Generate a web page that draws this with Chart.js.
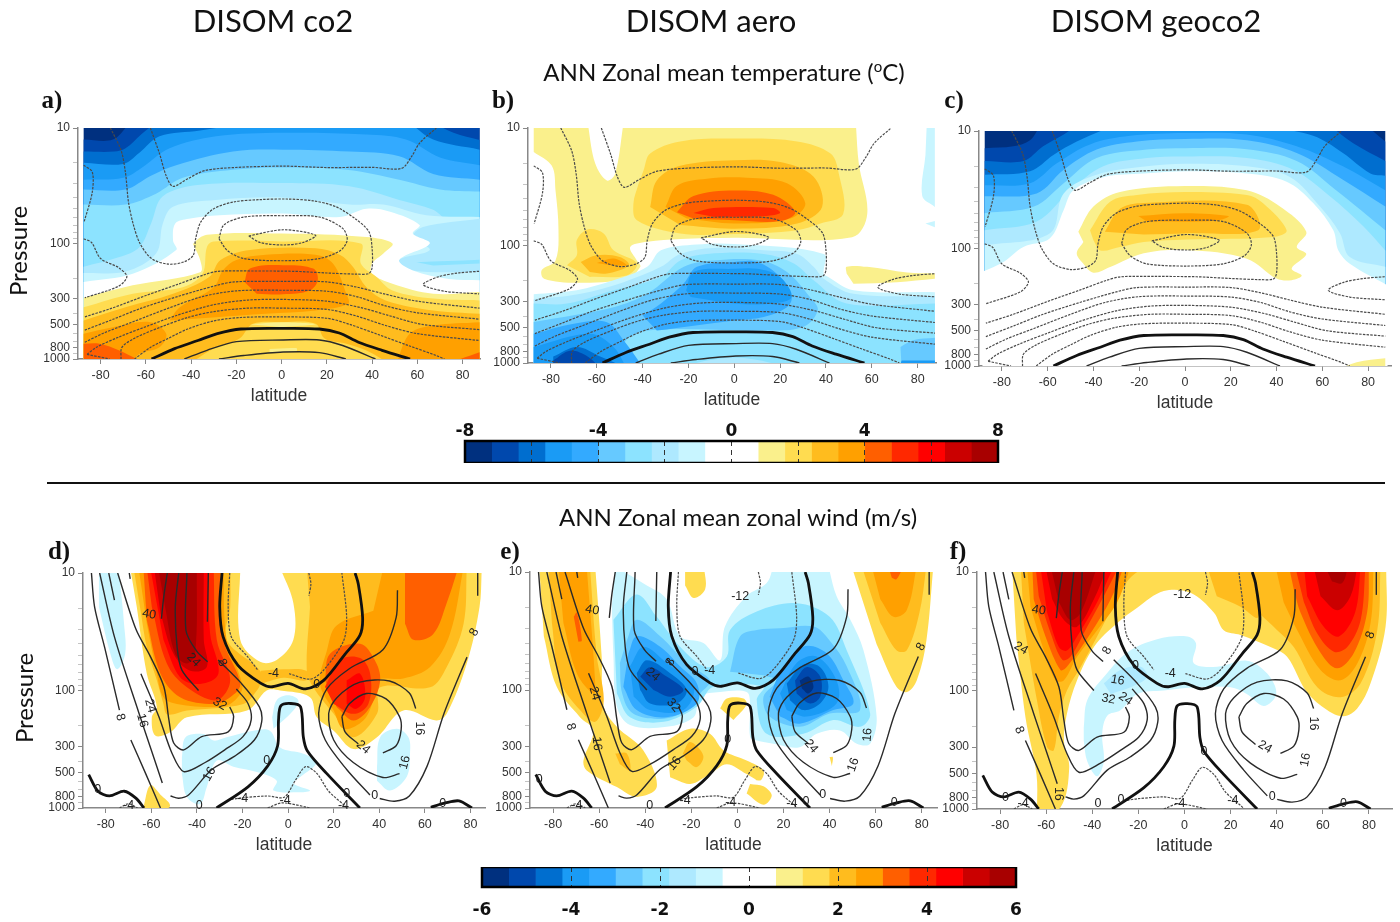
<!DOCTYPE html>
<html lang="en">
<head>
<meta charset="UTF-8">
<title>DISOM zonal mean temperature and zonal wind</title>
<script src="https://cdn.jsdelivr.net/npm/chart.js"></script>
<style>
    body { margin: 0; background: #fff; width: 1400px; height: 922px; overflow: hidden; position: relative; }
    #page { position: absolute; left: 0; top: 0; width: 1400px; height: 922px; filter: blur(0.45px); }
    canvas { position: absolute; }
    .txt { position: absolute; white-space: nowrap; color: #111; transform: translate(-50%, -50%); font-family: Lato, sans-serif; }
    .head { font-size: 31px; }
    .sub { font-size: 24px; }
    .sub sup { font-size: 15px; line-height: 0; }
    .letter { font-family: "Liberation Serif", serif; font-weight: bold; font-size: 25px; }
    .press { font-size: 24px; transform: translate(-50%, -50%) rotate(-90deg); }
    #rule { position: absolute; left: 47px; top: 482px; width: 1338px; height: 1.5px; background: #111; }
</style>
</head>
<body>
<div id="page">
    <div class="txt head" style="left:273px;top:20px">DISOM co2</div>
    <div class="txt head" style="left:711px;top:20px">DISOM aero</div>
    <div class="txt head" style="left:1156px;top:20px">DISOM geoco2</div>
    <div class="txt sub" style="left:724px;top:71px">ANN Zonal mean temperature (<sup>o</sup>C)</div>
    <div class="txt sub" style="left:738px;top:516px">ANN Zonal mean zonal wind (m/s)</div>
    <div class="txt letter" style="left:52px;top:100px">a)</div>
    <div class="txt letter" style="left:503px;top:100px">b)</div>
    <div class="txt letter" style="left:954px;top:100px">c)</div>
    <div class="txt letter" style="left:59px;top:551px">d)</div>
    <div class="txt letter" style="left:510px;top:551px">e)</div>
    <div class="txt letter" style="left:958px;top:551px">f)</div>
    <div class="txt press" style="left:17px;top:251px">Pressure</div>
    <div class="txt press" style="left:23px;top:698px">Pressure</div>
    <div id="rule"></div>
</div>

<script>
    // colour levels shared by both colour bars
    const palette = ['#00307f', '#0048ad', '#006ecf', '#1a9bf5', '#33aaff', '#66c9ff', '#8ce3ff', '#aee9ff', '#c8f5ff', '#ffffff',
                     '#ffffff', '#faf08c', '#ffdc50', '#ffbc1e', '#ffa000', '#ff5f00', '#ff2800', '#ff0000', '#cb0000', '#a80000'];
    const tempEdges = [-8, -7.2, -6.4, -5.6, -4.8, -4, -3.2, -2.4, -1.6, -0.8, 0, 0.8, 1.6, 2.4, 3.2, 4, 4.8, 5.6, 6.4, 7.2, 8];
    const windEdges = [-6, -5.4, -4.8, -4.2, -3.6, -3, -2.4, -1.8, -1.2, -0.6, 0, 0.6, 1.2, 1.8, 2.4, 3, 3.6, 4.2, 4.8, 5.4, 6];
    const tempTicks = [-8, -6, -4, -2, 0, 2, 4, 6, 8];
    const tempTickLabels = [-8, -4, 0, 4, 8];
    const windTicks = [-6, -4, -2, 0, 2, 4, 6];

    const latTicks = [-80, -60, -40, -20, 0, 20, 40, 60, 80];
    const pressureTicks = [10, 20, 30, 40, 50, 60, 70, 80, 90, 100, 200, 300, 400, 500, 600, 700, 800, 900, 1000];
    const pressureLabels = [10, 100, 300, 500, 800, 1000];

    // filled contours: [colour level, [[lat, hPa], ...]], painted in this order
    const fullPlot = [[-87.5, 10], [87.5, 10], [87.5, 1000], [-87.5, 1000]];

    const panelAFills = [
        [0, fullPlot],
        [1, [[-87.5,12.6],[-74.6,12.6],[-67,10],[87.5,10],[87.5,1000],[-87.5,1000]]],
        [2, [[-87.5,16],[-74,16],[-69,15],[-62,11.3],[-55.5,10],[67,10],[76,11],[87.5,12.7],[87.5,1000],[-87.5,1000]]],
        [3, [[-87.5,20],[-70,20.5],[-63,16.5],[-54,11.8],[-36,10.5],[-14,10],[56.6,10],[67,12.6],[87.5,15.4],[87.5,1000],[-87.5,1000]]],
        [4, [[-87.5,28],[-70,27],[-61,21.5],[-49.5,15],[-29,11.8],[0.6,11],[37.5,11.4],[55,12.6],[70,18],[87.5,21],[87.5,1000],[-87.5,1000]]],
        [5, [[-87.5,34],[-69,34],[-58,26],[-46.6,21],[-21.5,16],[0.6,15.4],[30,16],[52,17.6],[67,25],[87.5,28],[87.5,1000],[-87.5,1000]]],
        [6, [[-87.5,46],[-69,46],[-55.5,37],[-43.7,27],[-21.5,23],[0.6,22],[28.6,23],[52,28],[70,34],[87.5,35.5],[87.5,1000],[-87.5,1000]]],
        [7, [[-87.5,159],[-71.7,131],[-62.8,107],[-57.7,67],[-52.5,39],[-36,31],[0.6,30],[30,32],[52,42],[67,51],[73,61],[87.5,61],[87.5,1000],[-87.5,1000]]],
        [8, [[-87.5,180],[-69,175],[-55.5,122],[-52.5,67],[-48,48],[-29,42],[0.6,40],[30,46],[45,46],[64,57],[87.5,59],[87.5,1000],[-87.5,1000]]],
        [7, [[87.5,61],[62.5,72],[58,88],[65.5,114],[52,139],[58,171],[87.5,177]]],
        [6, [[59.6,145],[87.5,138],[87.5,149],[67,155]]],
        [9, [[-87.5,215],[-65.8,183],[-46.6,114],[-48,94],[-47,67],[-41,61],[-27.4,57],[0.6,55],[25.7,59],[37.5,50],[48,53],[61,69],[58,82],[65.5,100],[52,139],[58,171],[74,203],[87.5,208],[87.5,1000],[-87.5,1000]]],
        [11, [[-87.5,295],[-65.8,230],[-36,177],[-36,139],[-38.5,107],[-39,100],[-33,84],[0,82],[37.5,88],[49,100],[45,122],[40,149],[40,183],[49,223],[67,272],[87.5,263],[87.5,1000],[-87.5,1000]]],
        [12, [[-87.5,356],[-65.8,272],[-43.7,239],[-35,183],[-33,107],[-30,96],[0,96],[35,100],[35,149],[42,195],[49,255],[67,300],[87.5,311],[87.5,1000],[-87.5,1000]]],
        [13, [[-87.5,464],[-69,356],[-48,272],[-32,195],[-27,139],[-14,114],[15,110],[25.7,125],[31.5,159],[37.5,239],[46,311],[67,380],[87.5,406],[87.5,1000],[-87.5,1000]]],
        [14, [[-49.5,464],[-45,356],[-30,239],[-26,171],[-20,139],[-7,125],[15,125],[22.7,149],[28.6,272],[29.4,333],[15,380],[-7,406],[-29,434]]],
        [12, [[-40.7,1000],[-30,810],[-18.6,665],[-12.7,496],[0.6,480],[15,496],[19,665],[28.6,737],[37.5,845],[47.8,1000]]],
        [11, [[-5.3,820],[6.5,805],[6.5,860],[-5.3,870]]],
        [11, [[-14,500],[0,480],[15,500],[0,530]]],
        [14, [[-87.5,605],[-74.6,530],[-58,480],[-51,605],[-54,790],[-63,905],[-66,1000],[-87.5,1000]]],
        [14, [[50.7,1000],[56.6,605],[67,513],[87.5,480],[87.5,1000]]],
        [15, [[-87.5,737],[-80.5,737],[-71.7,845],[-60,1000],[-87.5,1000]]],
        [15, [[73,1000],[87.5,875],[87.5,1000]]],
        [15, [[-16.4,215],[-14,165],[0.6,154],[14,165],[16,208],[12.4,255],[0.6,275],[-11,272]]]
    ];

    const panelBFills = [
        [8, [[84,10],[87.5,10],[87.5,47],[82,38],[83.4,17]]],
        [8, [[83.4,65],[87.5,62],[87.5,70]]],
        [11, [[-87.5,10],[-64,10],[-60.7,20],[-55.6,28],[-52,24.5],[-48.3,10],[53,10],[54.3,20],[58,54],[51.4,85],[0,86],[-23.6,88],[-38,93],[-45.4,103],[-42.5,134],[-41,152],[-47,192],[-68.7,208],[-83,192],[-84,162],[-78,134],[-76.7,74],[-78,34],[-79.6,21],[-87.5,16]]],
        [12, [[-39.6,23],[-36.7,16.5],[-23.6,13],[0,12.3],[27.4,13],[42,16.5],[45.6,24.5],[47.5,54],[37.6,65],[27.4,74],[0,80],[-23.6,79],[-42.5,61],[-44,44],[-41.8,30]]],
        [13, [[-36.7,47],[-33.8,28],[-23.6,21],[0,18.8],[20,19.5],[34.6,26],[38.3,47],[27.4,65],[0,72],[-23.6,67]]],
        [14, [[-30,47],[-25,31],[-12,27],[5.5,26.5],[23,29.5],[31,44],[24.5,59],[0,65],[-20.7,59]]],
        [15, [[-25,52],[-17.8,38],[0,34],[17,37],[26.6,52],[20,62],[0,61],[-17.8,59]]],
        [16, [[-17.8,53],[-9,48],[17,48],[20,53],[14,56],[-9,57]]],
        [12, [[-73,147],[-68.7,121],[-68.7,90],[-64,73],[-57,79],[-52.7,110],[-42.5,142],[-47,180],[-63,185]]],
        [13, [[-67,138],[-60,121],[-50,125],[-46,147],[-55.6,173],[-63,168]]],
        [14, [[-60,141],[-52.7,129],[-47,147],[-54,147]]],
        [11, [[49,173],[49,152],[58,152],[75.4,170],[87.5,173],[87.5,192],[71,205],[52,212]]],
        [8, [[-87.5,260],[-68.7,240],[-52.7,198],[-38,152],[-32,110],[-16.3,98],[0,97],[39,118],[39,173],[41,185],[52,240],[87.5,250],[87.5,1000],[-87.5,1000]]],
        [7, [[-87.5,288],[-67,258],[-48.3,205],[-32,152],[-23.6,118],[-9,105],[12.8,110],[27.4,118],[34.6,152],[39,192],[52,258],[87.5,270],[87.5,1000],[-87.5,1000]]],
        [6, [[-87.5,312],[-73,312],[-52.7,240],[-32,185],[-23.6,134],[-12,118],[12.8,118],[26,142],[34.6,198],[49,312],[87.5,312],[87.5,1000],[-87.5,1000]]],
        [5, [[-87.5,448],[-52.7,335],[-38,258],[-22,152],[-9,134],[11.4,134],[23,168],[33,275],[36.4,356],[30,495],[12.8,530],[-38,530],[-48,690],[-41,1000],[-87.5,1000]]],
        [5, [[72.5,730],[78,640],[87.5,610],[87.5,1000],[73,1000]]],
        [4, [[-40,395],[-32,312],[-22,210],[-16.3,152],[0,138],[10,138],[20,185],[25,275],[23,335],[12.8,406],[0,434],[-33.8,530]]],
        [3, [[-21,240],[-17.8,168],[0,158],[10,158],[20,185],[25,275],[17,312],[0,312],[-19,275]]],
        [6, [[-39.6,1000],[-29.4,840],[-17.8,650],[0,540],[17,550],[29,600],[40.5,785],[52,1000]]],
        [7, [[-26.5,1000],[0,900],[26,1000]]],
        [4, [[-87.5,565],[-70,463],[-55.6,450],[-48.3,640],[-39.6,1000],[-87.5,1000]]],
        [3, [[-87.5,730],[-63,565],[-52.7,730],[-47,1000],[-87.5,1000]]],
        [2, [[-79,880],[-68.7,730],[-58.5,880],[-47,1000],[-79,1000]]],
        [1, [[-79,950],[-71.6,785],[-64,880],[-58.5,1000],[-79,1000]]],
        [3, [[73,950],[87.5,950],[87.5,1000],[72,1000]]]
    ];

    const panelCFills = [
        [0, fullPlot],
        [1, [[-87.5,14],[-75,13.5],[-67.7,12],[-63.3,10],[79.3,10],[87.5,12.3],[87.5,1000],[-87.5,1000]]],
        [2, [[-87.5,18],[-70.6,18],[-62,13.5],[-53,10.7],[-47.3,10],[63.3,10],[73.5,12.7],[87.5,18],[87.5,1000],[-87.5,1000]]],
        [3, [[-87.5,23.6],[-67.7,22],[-57.5,16],[-47.3,12.3],[-31.3,10],[34,10],[56,11],[69,15.4],[81,23],[87.5,24],[87.5,1000],[-87.5,1000]]],
        [4, [[-87.5,29],[-67.7,27.8],[-56,18.8],[-41.5,13],[-24,11],[0,10.4],[27,10.7],[48.8,13.5],[69,20],[87.5,32],[87.5,1000],[-87.5,1000]]],
        [5, [[-87.5,36],[-64.8,34],[-53,21.4],[-38.6,14.4],[-21,12.3],[0,11.7],[27,12],[48.8,15.4],[69,26],[87.5,44],[87.5,1000],[-87.5,1000]]],
        [6, [[-87.5,50],[-66,44],[-53,27.8],[-38.6,17],[-16.7,14.4],[0,14],[27,14.3],[48.8,18],[66,32],[87.5,70],[87.5,1000],[-87.5,1000]]],
        [7, [[-87.5,70],[-64.8,59],[-50,32],[-35.7,20],[-16.7,17],[0,16.5],[27,17],[47.3,21.4],[63.3,36],[78,65],[87.5,104],[87.5,1000],[-87.5,1000]]],
        [8, [[-87.5,94],[-59,74],[-53,34],[-38.6,23.6],[-16.7,20],[0,19],[27,20],[46,24.7],[59,44],[67.7,74],[72,118],[87.5,143],[87.5,1000],[-87.5,1000]]],
        [9, [[-88.5,158],[-79.3,130],[-70.6,97],[-59,82],[-53,47],[-48.8,32],[-35.7,24.7],[-18,23],[0.7,22],[27,23],[44.4,27],[56,41],[64.8,70],[67,104],[72,135],[88.5,206],[88.5,1000],[-88.5,1000]]],
        [11, [[-46.6,72],[-40,44],[-28.4,33],[0,29.4],[27,32],[41.5,44],[53,72],[48.8,97],[53,112],[46.6,148],[51,170],[46.6,186],[40,180],[27,122],[0.7,103],[-18,110],[-32.7,144],[-40,161],[-44.4,135],[-47.3,110],[-44.4,88]]],
        [12, [[-41.5,70],[-32.7,40],[-21,35],[0,33],[27,35],[34,41],[44.4,70],[38.6,80],[0.7,84],[-18,88],[-28.4,97],[-37,104],[-40,85]]],
        [13, [[-35,72],[-28.4,46],[-18,41],[27,42.5],[32,70],[0.7,74],[-18,76]]],
        [14, [[-20.4,53],[0,50],[19,53],[13.8,58],[-16.7,59]]],
        [11, [[65.5,1000],[75,930],[87.5,860],[87.5,1000]]]
    ];

    const panelDFills = [
        [8, [[-83,10],[-74.4,10],[-72,27],[-71.5,48.7],[-75,66],[-78,48.7],[-83,19.5]]],
        [12, [[-69.3,10],[-21,10],[-21,37],[-12.3,57],[-5,55],[2.3,37],[2.3,18],[-3.5,10],[85,10],[84,19.5],[78.4,59],[69.6,158],[65,180],[50.6,148],[39,250],[28.7,315],[20,220],[12.6,169],[9.6,114],[-3.5,100],[-9.4,100],[-18,148],[-44.4,169],[-51.8,227],[-58.3,242],[-59.8,169],[-57.6,138],[-62,72],[-66.4,19.5]]],
        [13, [[-67.8,10],[-25.4,10],[-25.4,19.5],[-27,37],[-12.3,68],[-12.3,88],[-13.7,100],[-19.6,130],[-44.4,148],[-53,160],[-54.7,130],[-57.6,82],[-62,43],[-65,19.5]]],
        [13, [[8.2,10],[78.4,10],[77,27],[69.6,63],[62.3,94],[40.4,94],[39,158],[28.7,250],[20,158],[11,94],[8.2,68],[9.6,19.5]]],
        [13, [[-12,68],[-2,66],[8,68],[8,82],[-2,78],[-12,88]]],
        [14, [[41.8,10],[77,10],[71,33],[62.3,63],[50.6,79],[39,82],[37.4,121],[33,180],[24.3,212],[20,148],[14,88],[17,46],[21.3,28],[37.4,21]]],
        [15, [[51.3,10],[74.7,10],[69.6,18],[63.7,33],[55,37],[51.3,27]]],
        [15, [[16.2,82],[18.4,48.7],[31.6,40],[38,55],[40.4,82],[36,138],[28.7,180],[21.3,138]]],
        [16, [[16.2,93],[22.8,55],[31.6,53],[36,72],[35.2,130],[28.7,158],[20,130]]],
        [17, [[25.7,82],[31.6,72],[33.8,114],[30,143],[25.7,130]]],
        [14, [[-65.6,10],[-28.4,10],[-27,37],[-21,77],[-20.3,100],[-25.4,130],[-32.7,138],[-48.8,130],[-54.7,114],[-57.6,72],[-62,27]]],
        [15, [[-63.5,10],[-29.8,10],[-28.4,37],[-21,88],[-25.4,114],[-32.7,130],[-47.4,114],[-56,72],[-62,25.3]]],
        [16, [[-62,10],[-32.7,10],[-31.3,37],[-25.4,82],[-31.3,121],[-44.4,94],[-53.2,59],[-59.8,19.5]]],
        [17, [[-60.5,10],[-35,10],[-34.2,33],[-30.6,72],[-38.6,88],[-47.4,77],[-54.7,37]]],
        [18, [[-58.8,10],[-37,10],[-37,37],[-35.7,63],[-43,68],[-50.3,48.7],[-56,22]]],
        [19, [[-57,10],[-40,10],[-40.8,48.7],[-44.4,59],[-49.6,48.7],[-54,19.5]]],
        [8, [[-46.6,370],[-45,250],[-37,235],[-32.7,267],[-27,250],[-15.2,220],[-8,220],[-3.5,305],[6.7,345],[12.6,407],[5.3,545],[2.3,620],[9.6,710],[5.3,735],[-6.4,710],[-5,585],[-13.7,495],[-24,445],[-31.3,395],[-35.7,665],[-38.6,925],[-44.4,805],[-46.6,515]]],
        [8, [[-7,169],[-5,121],[0,110],[4.5,121],[2.3,148],[-6.4,212]]],
        [8, [[39,450],[40.4,250],[47.7,212],[52.8,250],[53.5,345],[52,545],[44.7,710],[39,585]]],
        [12, [[-63.5,985],[-60.5,640],[-56,770],[-51.8,950],[-56,1000],[-63.5,1000]]]
    ];

    const panelEFills = [
        [12, [[-86,10],[-61.7,10],[-58.9,52],[-58,138],[-52.3,205],[-40.8,325],[-35,665],[-43.7,805],[-52.3,665],[-65.4,480],[-66.8,395],[-62.5,220],[-68.3,170],[-78.4,94],[-84,35]]],
        [12, [[-30.7,268],[-20.5,213],[-11.9,235],[-6,325],[4,395],[11.3,480],[9.8,585],[4,515],[-4.6,425],[-11.9,515],[-20.5,625],[-29.2,550]]],
        [12, [[-22.7,10],[-14.5,10],[-14,14],[-19,16.6],[-22.7,13]]],
        [12, [[-7.5,143],[-4.6,118],[2.6,118],[4,133],[-1.7,180]]],
        [12, [[5.5,625],[11.3,655],[14.9,785],[11.3,940],[4,755]]],
        [12, [[6.2,515],[11.3,515],[8.4,585]]],
        [12, [[49.6,10],[85,10],[82,38],[77.8,83],[73.5,104],[69,94],[60.4,41]]],
        [13, [[-82,10],[-64,10],[-61,52],[-58,122],[-61.7,186],[-68.3,148],[-77,83],[-80.5,27]]],
        [13, [[54,10],[82,10],[79,22],[73.5,46],[69,46],[62,27]]],
        [13, [[-23.7,346],[-20.5,276],[-14.8,360],[-17.6,450],[-22,395]]],
        [13, [[-53,346],[-48,346],[-46.6,480],[-51,425]]],
        [14, [[-77.7,10],[-65.4,10],[-61.7,88],[-62.5,107],[-69.7,72],[-75.5,27]]],
        [14, [[58.3,10],[77.8,10],[73.5,21],[67.7,24],[62,17]]],
        [15, [[-71,24],[-69.7,22],[-67.5,38],[-69,39]]],
        [15, [[65.5,10],[72,10],[69,11.5],[67,11.2]]],
        [8, [[-53,10],[-39.3,13],[-30.7,17],[-24.9,35],[-14.8,40],[-7.5,56],[-5.4,29],[4,16],[12.7,12.4],[15.6,10],[39.5,10],[43,16],[49,25.4],[54.7,46],[60.4,168],[57.6,285],[51.8,285],[44.5,220],[34.4,235],[27,305],[15.6,285],[8.4,268],[5.5,250],[5.5,130],[4,104],[-7.5,104],[-16.2,114],[-19,170],[-30.7,205],[-46.6,198],[-52.3,138],[-53.8,52],[-54.5,19.6]]],
        [6, [[-53.8,25.4],[-43.7,15.5],[-35,24],[-24.9,43],[-13.3,64],[-4.6,52],[-3.2,31],[8.4,21.6],[25.7,18.4],[40,24],[47.4,46],[57.6,158],[53.2,205],[41.6,180],[28.6,235],[12.7,235],[8.4,122],[11.3,94],[-10.4,94],[-17.6,138],[-32,186],[-46.6,170],[-52.3,107]]],
        [5, [[-3.2,70],[1.2,35],[8.4,31],[18.5,30],[33,29],[40,38],[47.4,63],[53.2,148],[40,158],[27,205],[14,168],[11.3,114],[17,83],[11.3,75]]],
        [5, [[-48,38],[-43.7,25.4],[-33.5,35],[-22,59],[-11.9,83],[-16.2,107],[-22,148],[-32,175],[-45.3,158],[-50,107],[-51,59]]],
        [4, [[-47.3,49],[-43.7,35],[-33.5,43],[-24.9,63],[-17.6,88],[-17.6,130],[-30.7,170],[-43.7,148],[-49.5,94]]],
        [3, [[-46.6,63],[-40.8,43],[-30.7,59],[-19,94],[-23.4,148],[-37.9,148],[-45,114]]],
        [2, [[-43.7,72],[-39.3,56],[-29.2,72],[-22,100],[-26.3,130],[-37.9,130],[-42.2,100]]],
        [1, [[-42.2,77],[-37.9,64],[-30.7,77],[-23.4,100],[-29.2,114],[-36.4,100]]],
        [4, [[14,114],[18.5,72],[28.6,43],[38.8,49],[46,83],[50.3,130],[41.6,148],[27,193],[18.5,168]]],
        [3, [[18.5,107],[25.7,59],[34.4,52],[43,83],[43,130],[30,168],[21.4,148]]],
        [2, [[21.4,88],[28.6,61],[35.9,64],[39.5,94],[35.9,130],[28.6,148],[22.8,122]]],
        [1, [[25,83],[30,64],[35.9,77],[35.9,114],[31.5,130],[25.7,107]]],
        [0, [[27,83],[30.8,77],[33,94],[30.8,107],[28,97]]],
        [12, [[40,370],[41.4,370],[41,440]]]
    ];

    const panelFFills = [
        [12, [[-74.8,10],[87.5,10],[87.2,29],[80.7,87],[75,141],[69,165],[62,147],[53,103],[44.5,52],[37.3,43],[24.3,34],[17,31],[12.7,22],[2.6,15],[-9,14.5],[-20.5,20],[-29.2,27],[-39.3,43],[-46.6,82],[-51,157],[-52.3,265],[-50,445],[-53.8,970],[-64,1000],[-64.2,510],[-69,167],[-72.9,37]]],
        [13, [[-71,10],[-17.6,10],[-24.9,12],[-32,21],[-37.9,35],[-45,63],[-51,100],[-54.5,167],[-56.7,320],[-59.6,300],[-64,121],[-69.7,27]]],
        [13, [[9.8,10],[30.8,10],[32,24],[24.3,19.6],[14,16]]],
        [13, [[30.8,10],[85,10],[83.6,31],[76.4,87],[67.7,114],[57.6,94],[47.4,43],[40.2,31],[32,22]]],
        [14, [[-68.3,10],[-23.4,10],[-29.2,18],[-37.9,31],[-46.6,52],[-52.3,82],[-56,82],[-61,46],[-66.8,19.6]]],
        [14, [[39.5,10],[82,10],[80.7,27],[75,59],[67.7,82],[59,67],[48.9,31],[43,18]]],
        [15, [[-66,10],[-26.3,10],[-32,17],[-40.8,33],[-51,63],[-53.8,67],[-60.3,35],[-65.4,17]]],
        [15, [[45.3,10],[80,10],[79.2,22],[73.5,48],[66.2,65],[59,48],[50.3,22],[47.4,14]]],
        [16, [[-64.6,10],[-28.5,10],[-35,16],[-42.2,29],[-49.5,52],[-53,55],[-58,33],[-63.2,16]]],
        [16, [[48,10],[78.5,10],[76.4,25.4],[70.6,43],[64.8,47],[57.6,33],[51.8,18]]],
        [17, [[-62.5,10],[-30.7,10],[-37.9,18],[-46.6,35],[-51,46],[-54.5,43],[-59.6,22]]],
        [17, [[51.8,10],[76.4,10],[74,22],[67,35],[60.4,29],[53.2,16]]],
        [18, [[-60.3,10],[-33.5,10],[-39.3,17],[-46.6,29],[-52.3,25.4],[-57.4,17]]],
        [18, [[56,10],[75,10],[72,16],[66.2,21],[59,16]]],
        [19, [[-58,10],[-37.9,10],[-45,22],[-49.5,25.4],[-54.5,18]]],
        [19, [[61,10],[71,10],[68.4,12.4],[64,12]]],
        [8, [[-43.7,205],[-42.2,121],[-35,77],[-24.9,48],[-11.9,37],[1.2,35],[5,40],[4,59],[14.2,63],[27,56],[35.9,72],[39.8,107],[34.4,135],[27,107],[20,94],[5.5,94],[-9,100],[-20.5,107],[-27.8,147],[-33.5,163],[-35.7,232],[-35,395],[-37.9,530],[-42.2,395],[-43.7,265]]],
        [7, [[-35,87],[-27.8,67],[-19,63],[-16.2,77],[-23.4,94],[-32,107]]]
    ];

    // climatology contours [lat, hPa], null breaks a line
    const tempDashed = [
        [[-75.7,10],[-71,15.5],[-69,24.5],[-67.7,43.6],[-65.5,69],[-62.6,100],[-57.5,135],[-50,151],[-43,144],[-39,126],[-38,91],[-35.7,65],[-30,50],[-21,43.6],[-9.5,41.7],[2,41.2],[14,42.7],[24,48],[33,62],[38.6,79],[40,110],[40,162],[38.6,182],[33,184],[20,180],[5,174],[-13,173],[-28,174],[-34,186],[-46,226],[-60,282],[-75,363],[-87,432]],
        [[-58,10],[-54,16.6],[-51,26],[-48,32],[-41.5,27.5],[-34,23.4],[-21,22],[1,21.4],[20,22],[40,21.9],[53,22.4],[57.5,17.6],[61,13.5],[68.4,10]],
        [[-87.5,21],[-83.7,24],[-83.7,36],[-87.3,65]],
        [[-27.7,90.6],[-25.5,69],[-16.7,59],[0.7,57.5],[16.7,59],[27,74],[29,93],[26,115],[16.7,135],[0.7,141],[-16.7,135],[-24,115],[-27.7,90.6]],
        [[-14.5,86],[0.7,76],[15,85],[9.5,98],[0.7,103],[-9.5,98],[-14.5,86]],
        [[87.3,174],[78,180],[69,195],[62.6,227],[72,259],[87.3,273]],
        [[-87.5,91],[-84,98],[-80,135],[-72,162],[-68.4,193],[-72,234],[-87,295]],
        [[-87,562],[-75,457],[-62,363],[-46,288],[-30,234],[-21,215],[1,213],[20,215],[33,238],[46,275],[60,316],[87.5,363]],
        [[-87,716],[-78,589],[-66,479],[-50,363],[-35,288],[-20,257],[1,254],[20,259],[33,288],[46,347],[60,398],[87.5,452]],
        [[-86,912],[-82,794],[-72,646],[-60,525],[-46,417],[-30,339],[-15,309],[1,305],[20,316],[35,359],[48,424],[62,501],[87.5,557]],
        [[-71,1000],[-70.6,794],[-65,661],[-53,525],[-41.5,437],[-30,389],[-15,363],[1,363],[20,372],[33,424],[46,513],[60,603],[87.5,692]],
        [[-65,1000],[-58,794],[-50,661],[-41.5,550],[-30,468],[-18,437],[0.7,432],[20,444],[30,501],[43,617],[56,764],[68.4,933],[72,1000]],
        [[-86,912],[-76,1000]]
    ];
    const tempThin = [
        [[-43,1000],[-33,841],[-20,708],[0.7,684],[16.7,684],[27,764],[41.5,1000]],
        [[-27.7,1000],[-16.7,933],[0.7,871],[16.7,881],[28.4,1000]]
    ];
    const tempThick = [
        [[-57.5,1000],[-47.3,813],[-37,692],[-28.4,603],[-18,550],[0.7,543],[16.7,550],[25.5,596],[34,716],[44.4,841],[56.8,1000]]
    ];

    const windDashed = [
        [[-25.6,10],[-26.3,19.5],[-24.9,35],[-17.6,52],[-13.3,67]],
        [[0.4,72],[9.8,80],[15.6,67],[24.3,38],[25.7,24],[23.6,10]],
        [[9.1,10],[10,12.4],[9.1,15.6]],
        [[-24.9,845],[-20.5,820],[-9,790],[-1.7,810],[3.3,577],[7.7,445],[12.7,510],[17.8,720],[25,960],[25.7,1000]],
        [[-9,1000],[-2.5,905],[9.8,1000]],
        [[-74,1000],[-70,920],[-66,1000]]
    ];
    const windThin = [
        [[-86.3,10],[-84.9,19.5],[-80.5,43],[-74,147],null,[-69,264],[-62.5,510],[-56,1000]],
        [[-35,10],[-35.4,26],null,[-30.7,55],[-20.5,87],[-12.6,138],[-11.6,185],[-14.8,264],[-23.4,362],[-33.5,470],[-43.7,775],[-48,825],[-51.6,790],null,[-55.2,613],[-59.6,340],[-65.4,157],[-76.2,35],[-82.7,10]],
        [[-78.7,10],[-76.2,17],null,[-64.6,72],[-56.7,167],[-51,340],[-45.8,490],[-36.4,410],[-27.8,320],[-19.8,247],[-16.2,178],[-17.6,129],[-22.7,97]],
        [[-44.4,10],[-44.8,31],[-40.2,46],[-35.3,57]],
        [[-74.8,10],[-66.8,30],[-60.3,52],[-54.5,93],[-52.3,178],[-50.2,280],[-45.8,320],[-37.9,247],[-26.3,225],[-23.9,167],[-25.6,138]],
        [[-69.7,10],[-69.3,11.2]],
        [[-48,10],[-49.5,19.5],[-48.7,43],[-46.6,67],[-39.3,100]],
        [[-53,10],[-54.5,15.6],[-55.6,24.5]],
        [[48,14],[47.4,24],[41.6,45],[27,65],[17,97],[13.4,157],[16.3,264],[25.7,470],[35.9,775],null,[40.2,830],[46.7,875],[53.2,790],[61,440],[68.4,157],[78.5,52]],
        [[83.2,10],[83.2,15.6]],
        [[56,142],[53.2,105],[44.5,83],[31.5,85],[21.4,115],[17.8,157],[20,264],[28.6,410],[41.6,550],[48.9,510],null,[56,264]],
        [[23.6,167],[27,129],[34.4,106],[43,118],[48.9,167],[49.6,216],[47.4,295],[41.6,340],null,[30.8,285],[25,225],[23.6,167]]
    ];
    const windThick = [
        [[-29,10],[-30,19.5],[-28.5,35],[-22,61],[-11.9,87],[-7.5,93],[0,87],[7.7,97],[15.6,82],[25,49],[31.5,34],[32.7,24],[30.8,12.4],[29.4,10]],
        [[-31.4,1000],[-17.6,660],[-9,440],[-4.6,295],[-4.2,178],[-3.2,135],[1.2,129],[5.5,138],[6.7,250],[8.4,325],[17,510],[31.5,1000]],
        [[-87.5,520],[-83.4,720],[-78.4,790],[-71.9,720],[-66.8,825],[-63.2,1000]],
        [[62.6,985],[69,905],[75,870],[80.7,1000]]
    ];

    // contour labels: [lat, hPa, text, angle]
    const panelDLabels = [[-61,22.5,'40',10],[-41.5,55,'24',45],[-29,58,'8',65],[-6.4,72,'-4',0],[12.6,89,'0',0],[-30,130,'32',30],[-60.5,135,'24',75],[-64,180,'16',75],[-73.7,169,'8',75],[-34.5,515,'16',-60],[-9.4,395,'0',0],[-39,950,'0',0],[57.6,210,'16',90],[33,305,'24',40],[51.3,410,'16',-75],[81.7,32,'8',-60],[38,780,'0',0],[25.7,750,'0',0],[67.8,925,'0',0],[-83.5,700,'0',0],[-20,830,'-4',0],[-1.3,860,'-4',0],[24.3,950,'-4',0],[-70,950,'-4',0]];
    const panelELabels = [[-63,21,'40',10],[-62,107,'24',75],[-72.3,205,'8',75],[-61,285,'16',85],[-29,58,'8',-60],[-36.7,74,'24',40],[-18.4,70,'0',0],[-12,68,'-4',0],[-27.8,135,'32',50],[-27.3,420,'16',-50],[-4.2,265,'0',0],[-38,950,'0',0],[1.2,16,'-12',0],[79.7,43,'8',-60],[56.5,240,'16',-85],[50.3,430,'16',-70],[32,300,'24',50],[37,775,'0',0],[29.8,890,'0',0],[-86,570,'0',0],[-69.7,950,'-4',0],[68,905,'0',0],[-22.7,860,'-4',0],[-2.9,900,'-4',0],[23.6,920,'-4',0]];
    const panelFLabels = [[-63.2,21,'40',10],[-70.9,44,'24',30],[-71.7,216,'8',70],[-54.5,745,'16',90],[-33.5,46,'8',-60],[-21.3,61,'0',0],[-29,82,'16',10],[-33,118,'32',10],[-25.6,118,'24',35],[-6.2,72,'-4',0],[-1,15.6,'-12',0],[56,190,'16',90],[34.9,300,'24',30],[52.5,385,'16',-80],[80.7,34,'8',-70],[-77.7,800,'0',0],[-37.5,905,'0',0],[-27.5,825,'0',0],[8.4,325,'0',0],[38,790,'0',0],[69,905,'0',0],[-70,900,'-4',0],[-2,905,'-4',0],[21,850,'-4',0]];

    const EDGE_LAT = 87.5;

    // points on the plot edge are doubled so the smoothing keeps the corner square,
    // top and bottom run a little past the axis and get clipped by the chart area
    function polyPoints(pts) {
        const out = [];
        pts.forEach(([lat, p]) => {
            const edgeP = p <= 10 ? 9 : (p >= 1000 ? 1100 : p);
            out.push({x: lat, y: edgeP});
            if (Math.abs(lat) >= EDGE_LAT || edgeP !== p) out.push({x: lat, y: edgeP});
        });
        return out;
    }

    function linePoints(pts) {
        return pts.map(pt => pt ? {x: pt[0], y: pt[1]} : {x: NaN, y: NaN});
    }

    function panelDatasets(fills, dashed, thin, thick) {
        const sets = [];
        fills.forEach(([level, pts]) => {
            sets.push({data: polyPoints(pts), showLine: true, fill: 'shape', backgroundColor: palette[level],
                       borderWidth: 0, pointRadius: 0, tension: 0.35});
        });
        dashed.forEach(pts => sets.push({data: linePoints(pts), showLine: true, fill: false, borderColor: '#4a4a4a',
                       borderWidth: 1.2, borderDash: [2.5, 1.2], pointRadius: 0, tension: 0.3}));
        thin.forEach(pts => sets.push({data: linePoints(pts), showLine: true, fill: false, borderColor: '#2a2a2a',
                       borderWidth: 1.4, pointRadius: 0, tension: 0.3}));
        thick.forEach(pts => sets.push({data: linePoints(pts), showLine: true, fill: false, borderColor: '#111',
                       borderWidth: 2.8, pointRadius: 0, tension: 0.3}));
        sets.forEach((s, i) => { s.order = -i; });
        return sets;
    }

    const contourLabelPlugin = {
        id: 'contourLabels',
        afterDatasetsDraw(chart) {
            const labels = chart.config.options.contourLabelList || [];
            const c = chart.ctx;
            c.save();
            c.font = '12.5px "Liberation Sans"';
            c.fillStyle = '#222';
            c.textAlign = 'center';
            c.textBaseline = 'middle';
            labels.forEach(([lat, p, text, angle]) => {
                c.save();
                c.translate(chart.scales.x.getPixelForValue(lat), chart.scales.y.getPixelForValue(p));
                c.rotate(angle * Math.PI / 180);
                c.fillText(text, 0, 0);
                c.restore();
            });
            c.restore();
        }
    };

    const GUTTER_L = 42, GUTTER_R = 14, GUTTER_T = 14, GUTTER_B = 48;

    function addCanvas(left, top, width, height) {
        const cv = document.createElement('canvas');
        cv.width = width;
        cv.height = height;
        cv.style.left = left + 'px';
        cv.style.top = top + 'px';
        document.getElementById('page').appendChild(cv);
        return cv;
    }

    function drawPanel(box, datasets, labels) {
        const cv = addCanvas(box.left - GUTTER_L, box.top - GUTTER_T, box.width + GUTTER_L + GUTTER_R, box.height + GUTTER_T + GUTTER_B);
        return new Chart(cv, {
            type: 'scatter',
            data: {datasets: datasets},
            plugins: [contourLabelPlugin],
            options: {
                responsive: false,
                animation: false,
                events: [],
                contourLabelList: labels,
                layout: {padding: {top: GUTTER_T, right: GUTTER_R, left: 0, bottom: 0}},
                plugins: {legend: {display: false}, tooltip: {enabled: false}},
                scales: {
                    x: {
                        type: 'linear', min: -90, max: box.latMax,
                        afterBuildTicks: s => { s.ticks = latTicks.map(v => ({value: v})); },
                        afterFit: s => { s.height = GUTTER_B; },
                        grid: {drawOnChartArea: false, tickLength: 5, tickColor: '#888'},
                        border: {color: '#888', width: 1.5},
                        ticks: {color: '#333', padding: 4, maxRotation: 0, autoSkip: false, font: {family: 'Liberation Sans', size: 12.5}},
                        title: {display: true, text: 'latitude', color: '#333', padding: 0, font: {family: 'Liberation Sans', size: 17.5}}
                    },
                    y: {
                        type: 'logarithmic', reverse: true, min: 10, max: 1000,
                        afterBuildTicks: s => { s.ticks = pressureTicks.map(v => ({value: v})); },
                        afterFit: s => { s.width = GUTTER_L; },
                        grid: {
                            drawOnChartArea: false, tickLength: 5,
                            tickColor: c => pressureLabels.includes(c.tick && c.tick.value) ? '#888' : '#c4c4c4'
                        },
                        border: {color: '#888', width: 1.5},
                        ticks: {
                            color: '#333', padding: 3, autoSkip: false, font: {family: 'Liberation Sans', size: 12},
                            callback: v => pressureLabels.includes(v) ? String(v) : ''
                        }
                    }
                }
            }
        });
    }

    const frameBar = {
        id: 'frameBar',
        afterDraw(chart) {
            const a = chart.chartArea, c = chart.ctx;
            c.save();
            c.strokeStyle = '#000';
            c.lineWidth = 2.5;
            c.strokeRect(a.left, a.top, a.right - a.left, a.bottom - a.top);
            c.restore();
        }
    };

    function drawColorBar(box, edges, ticks, tickLabels, side, tickPadding) {
        const PAD = 30, AXIS = 32;
        const cv = addCanvas(box.left - PAD, side === 'top' ? box.top - AXIS : box.top, box.width + 2 * PAD, box.height + AXIS);
        const sets = palette.map((col, i) => ({data: [[edges[i], edges[i + 1]]], backgroundColor: col, grouped: false,
                                              barPercentage: 1, categoryPercentage: 1}));
        return new Chart(cv, {
            type: 'bar',
            data: {labels: [''], datasets: sets},
            plugins: [frameBar],
            options: {
                indexAxis: 'y',
                responsive: false,
                animation: false,
                events: [],
                layout: {padding: {left: PAD, right: PAD, top: 0, bottom: 0}},
                plugins: {legend: {display: false}, tooltip: {enabled: false}},
                scales: {
                    x: {
                        type: 'linear', position: side, min: edges[0], max: edges[edges.length - 1],
                        afterBuildTicks: s => { s.ticks = ticks.map(v => ({value: v})); },
                        afterFit: s => { s.height = AXIS; },
                        grid: {z: 1, drawTicks: false, color: '#333'},
                        border: {display: false, dash: [5, 4]},
                        ticks: {
                            color: '#111', padding: tickPadding, autoSkip: false, maxRotation: 0,
                            font: {family: 'DejaVu Sans', weight: 'bold', size: 17},
                            callback: v => tickLabels.includes(v) ? String(v) : ''
                        }
                    },
                    y: {display: false, stacked: false}
                }
            }
        });
    }

    drawPanel({left: 78, top: 128, width: 402, height: 231, latMax: 87.7}, panelDatasets(panelAFills, tempDashed, tempThin, tempThick), []);
    drawPanel({left: 528, top: 128, width: 408, height: 235, latMax: 88}, panelDatasets(panelBFills, tempDashed, tempThin, tempThick), []);
    drawPanel({left: 979, top: 131, width: 412, height: 235, latMax: 90}, panelDatasets(panelCFills, tempDashed, tempThin, tempThick), []);
    drawPanel({left: 83, top: 573, width: 402, height: 235, latMax: 86.4}, panelDatasets(panelDFills, windDashed, windThin, windThick), panelDLabels);
    drawPanel({left: 530, top: 572, width: 407, height: 236, latMax: 86.6}, panelDatasets(panelEFills, windDashed, windThin, windThick), panelELabels);
    drawPanel({left: 977, top: 572, width: 415, height: 237, latMax: 90}, panelDatasets(panelFFills, windDashed, windThin, windThick), panelFLabels);

    drawColorBar({left: 465, top: 441, width: 533, height: 22}, tempEdges, tempTicks, tempTickLabels, 'top', -1);
    drawColorBar({left: 482, top: 867, width: 534, height: 20}, windEdges, windTicks, windTicks, 'bottom', 13);
</script>
</body>
</html>
